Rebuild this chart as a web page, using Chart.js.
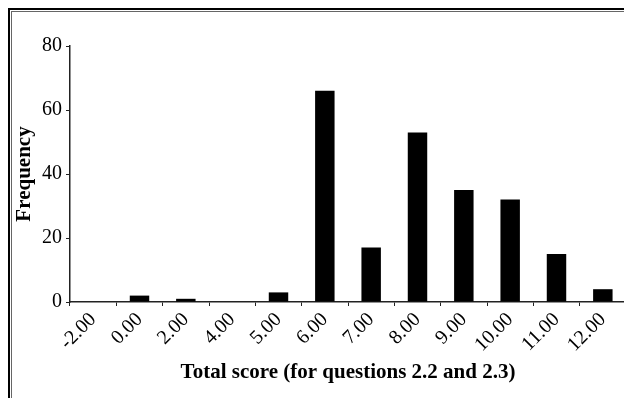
<!DOCTYPE html>
<html>
<head>
<meta charset="utf-8">
<script src="https://cdn.jsdelivr.net/npm/chart.js@4"></script>
<style>
  html, body { margin: 0; padding: 0; width: 624px; height: 398px; overflow: hidden; background: #fff; }
  #outer { position: absolute; left: 8px; top: 8px; width: 700px; height: 500px; border-left: 2px solid #000; border-top: 2px solid #000; }
  #inner { position: absolute; left: 1px; top: 1px; width: 690px; height: 490px; border-left: 1px solid #666; border-top: 1px solid #666; }
  #c { position: absolute; left: 0; top: 0; }
</style>
</head>
<body>
<div id="outer"><div id="inner"></div></div>
<canvas id="c" width="640" height="398"></canvas>
<script>
const categories = ["-2.00", "0.00", "2.00", "4.00", "5.00", "6.00", "7.00", "8.00", "9.00", "10.00", "11.00", "12.00"];
const frequency = [0, 2, 1, 0, 3, 66, 17, 53, 35, 32, 15, 4];
const yTicks = [0, 20, 40, 60, 80];
const xTitle = "Total score (for questions 2.2 and 2.3)";
const yTitle = "Frequency";

const serif = "'Liberation Serif', 'Times New Roman', serif";

new Chart(document.getElementById('c'), {
  type: 'bar',
  data: {
    labels: categories,
    datasets: [{
      data: frequency,
      backgroundColor: '#000',
      borderWidth: 0,
      barPercentage: 0.42,
      categoryPercentage: 1.0
    }]
  },
  options: {
    responsive: false,
    animation: false,
    layout: { padding: { top: 46, right: 14, left: 0, bottom: 0 } },
    plugins: { legend: { display: false }, tooltip: { enabled: false } },
    scales: {
      x: {
        offset: true,
        grid: { display: true, drawOnChartArea: false, drawTicks: true, tickLength: 4, color: '#222', offset: true },
        border: { display: true, color: '#222', width: 1.5 },
        ticks: {
          color: '#000',
          font: { family: serif, size: 20 },
          minRotation: 45, maxRotation: 45,
          padding: 2,
          autoSkip: false
        },
        title: {
          display: true, text: xTitle, color: '#000',
          font: { family: serif, size: 21, weight: 'bold' },
          padding: { top: 0, bottom: 13 }
        },
        afterFit: (s) => { s.height = 96; }
      },
      y: {
        min: 0, max: 80,
        afterBuildTicks: (s) => { s.ticks = yTicks.map(v => ({ value: v })); },
        grid: { display: true, drawOnChartArea: false, drawTicks: true, tickLength: 4, color: '#222' },
        border: { display: true, color: '#222', width: 1.5 },
        ticks: {
          color: '#000',
          font: { family: serif, size: 20 },
          padding: 4
        },
        title: {
          display: true, text: yTitle, color: '#000',
          font: { family: serif, size: 21, weight: 'bold' },
          padding: { top: 12, bottom: 0 }
        },
        afterFit: (s) => { s.width = 70; }
      }
    }
  }
});
</script>
</body>
</html>
